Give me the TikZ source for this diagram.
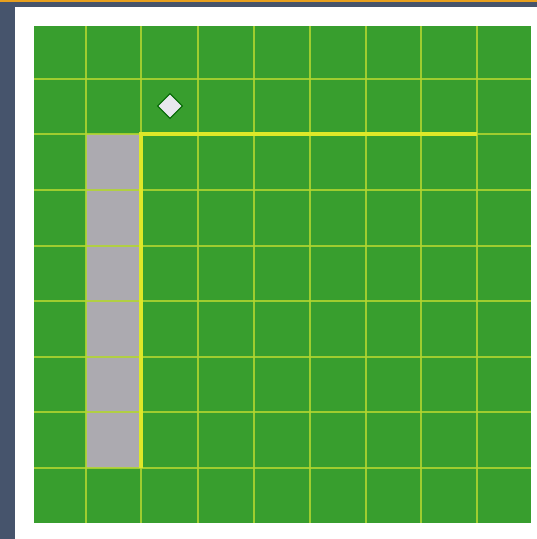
\documentclass[tikz,border=0pt]{standalone}
\usetikzlibrary{shapes.geometric}
\definecolor{frameslate}{RGB}{70,84,108}
\definecolor{frameorange}{RGB}{232,160,30}
\definecolor{turf}{RGB}{56,158,46}
\definecolor{gridyellow}{RGB}{178,214,48}
\definecolor{wallyellow}{RGB}{222,232,40}
\definecolor{pathgray}{RGB}{172,170,176}
\definecolor{markerfill}{RGB}{232,232,238}

\begin{document}
\begin{tikzpicture}[x=0.01cm, y=-0.01cm]
    \useasboundingbox (0,0) rectangle (537,539);
    \fill[white] (0,0) rectangle (537,539);
    \fill[frameslate] (0,0) rectangle (15,539);
    \fill[frameslate] (0,0) rectangle (537,7);
    \fill[frameorange] (0,0) rectangle (537,1.5);
    \fill[turf] (34,26) rectangle (531,523);
    \fill[pathgray] (86,134) rectangle (140,468);
    \foreach \x in {86,141,198,254,310,366,421,477}
      \draw[gridyellow, line width=0.6pt, opacity=0.85] (\x,26) -- (\x,523);
    \foreach \y in {79,134,190,246,301,357,412,468}
      \draw[gridyellow, line width=0.6pt, opacity=0.85] (34,\y) -- (531,\y);
    \draw[wallyellow, line width=1.2pt] (477,134) -- (141,134) -- (141,468);
    \node (marker) at (170,106) [diamond, fill=markerfill, draw=black!60!green, line width=0.3pt, inner sep=0pt, minimum size=0.25cm] {};
  \end{tikzpicture}
\end{document}
